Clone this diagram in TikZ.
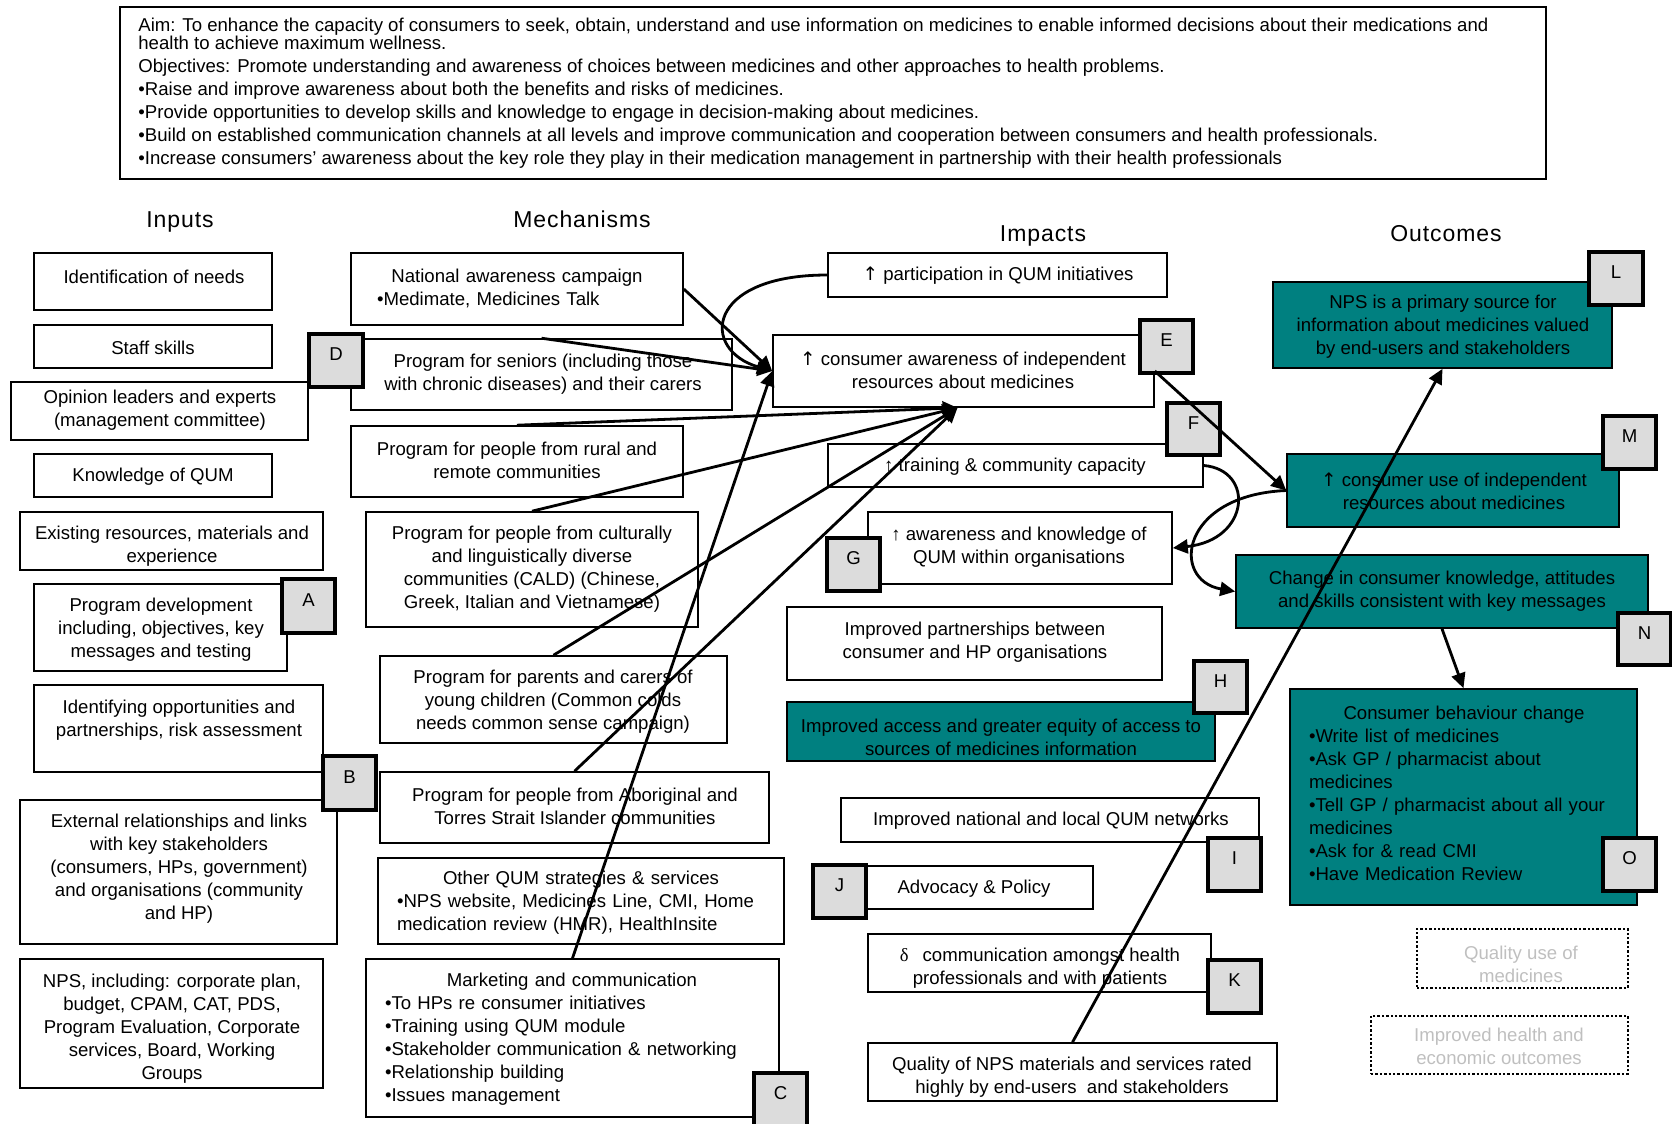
\documentclass[tikz,border=0pt]{standalone}
\usepackage{fontspec}
\setmainfont{Liberation Sans}
\newfontfamily\symfont{Liberation Serif}
\newfontfamily\arrowfont{DejaVu Sans}
\usetikzlibrary{fit,arrows.meta}
\definecolor{tealfill}{RGB}{0,128,128}
\definecolor{badgegray}{RGB}{220,220,220}
\definecolor{fadedtext}{RGB}{191,191,191}
\newcommand{\uparr}{{\arrowfont ↑}}
\newcommand{\thinup}{{\symfont ↑}}

\begin{document}
\begin{tikzpicture}[x=0.5pt,y=-0.5pt,
  box/.style={draw, line width=0.8pt, inner sep=0pt},
  tealbox/.style={box, fill=tealfill},
  dotbox/.style={draw, densely dotted, line width=1.2pt, inner sep=0pt},
  badge/.style={draw, line width=1.6pt, fill=badgegray, inner sep=0pt, font=\fontsize{9.3}{11.5}\selectfont},
  txt/.style={inner sep=0pt, align=center, font=\fontsize{9.3}{11.5}\selectfont},
  listtxt/.style={inner sep=0pt, align=left, font=\fontsize{9.3}{11.5}\selectfont},
  fadedtxt/.style={txt, text=fadedtext},
  heading/.style={inner sep=0pt, anchor=base, font=\fontsize{11.5}{13}\selectfont\addfontfeature{LetterSpace=4}},
  conn/.style={line width=1.4pt, -{Triangle[length=7.5pt,width=7pt]}},
]
\useasboundingbox (0,0) rectangle (1672,1124);

% ---------- aim and objectives ----------
\node[box, fit={(120,7) (1546,179)}] (aim) {};
\node[listtxt, anchor=north west, font=\fontsize{9.3}{9}\selectfont] (aim-t) at (138,18)
 {Aim: To enhance the capacity of consumers to seek, obtain, understand and use information on medicines to enable informed decisions about their medications and\\
  health to achieve maximum wellness.\\[2.5pt]
  Objectives: Promote understanding and awareness of choices between medicines and other approaches to health problems.\\[2.5pt]
  •Raise and improve awareness about both the benefits and risks of medicines.\\[2.5pt]
  •Provide opportunities to develop skills and knowledge to engage in decision-making about medicines.\\[2.5pt]
  •Build on established communication channels at all levels and improve communication and cooperation between consumers and health professionals.\\[2.5pt]
  •Increase consumers’ awareness about the key role they play in their medication management in partnership with their health professionals};

% ---------- column headings ----------
\node[heading] (h-in) at (180,227) {Inputs};
\node[heading] (h-mech) at (582,227) {Mechanisms};
\node[heading] (h-imp) at (1043,241) {Impacts};
\node[heading] (h-out) at (1446,241) {Outcomes};

% ---------- inputs ----------
\node[box, fit={(34,253) (272,310)}] (idn) {};
\node[txt] (idn-t) at (154,277) {Identification of needs};
\node[box, fit={(34,325) (272,368)}] (staff) {};
\node[txt] (staff-t) at (153,348) {Staff skills};
\node[box, fit={(11,382) (308,440)}] (opin) {};
\node[txt] (opin-t) at (160,410) {Opinion leaders and experts\\(management committee)};
\node[box, fit={(34,454) (272,497)}] (know) {};
\node[txt] (know-t) at (153,477) {Knowledge of QUM};
\node[box, fit={(20,512) (323,570)}] (exist) {};
\node[txt] (exist-t) at (172,546) {Existing resources, materials and\\experience};
\node[box, fit={(34,584) (287,671)}] (progdev) {};
\node[txt] (progdev-t) at (161,630) {Program development\\including, objectives, key\\messages and testing};
\node[box, fit={(34,685) (323,772)}] (identopp) {};
\node[txt] (identopp-t) at (179,720) {Identifying opportunities and\\partnerships, risk assessment};
\node[box, fit={(20,800) (337,944)}] (extrel) {};
\node[txt] (extrel-t) at (179,869) {External relationships and links\\with key stakeholders\\(consumers, HPs, government)\\and organisations (community\\and HP)};
\node[box, fit={(20,959) (323,1088)}] (npsinc) {};
\node[txt] (npsinc-t) at (172,1029) {NPS, including: corporate plan,\\budget, CPAM, CAT, PDS,\\Program Evaluation, Corporate\\services, Board, Working\\Groups};

% ---------- mechanisms ----------
\node[box, fit={(351,253) (683,325)}] (natl) {};
\node[listtxt, text width=140pt] (natl-t) at (517,288)
 {\centering National awareness campaign\par\raggedright •Medimate, Medicines Talk};
\node[box, fit={(351,339) (732,410)}] (seniors) {};
\node[txt] (seniors-t) at (543,374) {Program for seniors (including those\\with chronic diseases) and their carers};
\node[box, fit={(351,426) (683,497)}] (rural) {};
\node[txt] (rural-t) at (517,460) {Program for people from rural and\\remote communities};
\node[box, fit={(366,512) (698,627)}] (cald) {};
\node[txt] (cald-t) at (532,569) {Program for people from culturally\\and linguistically diverse\\communities (CALD) (Chinese,\\Greek, Italian and Vietnamese)};
\node[box, fit={(380,656) (727,743)}] (parents) {};
\node[txt] (parents-t) at (553,702) {Program for parents and carers of\\young children (Common colds\\needs common sense campaign)};
\node[box, fit={(380,772) (769,843)}] (abor) {};
\node[txt] (abor-t) at (575,806) {Program for people from Aboriginal and\\Torres Strait Islander communities};
\node[box, fit={(378,858) (784,944)}] (other) {};
\node[listtxt, text width=184pt] (other-t) at (581,903)
 {\centering Other QUM strategies \& services\par\raggedright •NPS website, Medicines Line, CMI, Home\newline medication review (HMR), HealthInsite};
\node[box, fit={(366,959) (779,1117)}] (market) {};
\node[listtxt, text width=187pt] (market-t) at (572,1039)
 {\centering Marketing and communication\par\raggedright
  •To HPs re consumer initiatives\par •Training using QUM module\par
  •Stakeholder communication \& networking\par •Relationship building\par •Issues management};

% ---------- impacts ----------
\node[box, fit={(828,253) (1167,297)}] (partic) {};
\node[txt] (partic-t) at (998,276) {\uparr\ participation in QUM initiatives};
\node[box, fit={(773,335) (1154,407)}] (aware) {};
\node[txt] (aware-t) at (963,370) {\uparr\ consumer awareness of independent\\resources about medicines};
\node[box, fit={(828,444) (1203,487)}] (train) {};
\node[txt] (train-t) at (1015,467) {\thinup\ training \& community capacity};
\node[box, fit={(868,512) (1172,584)}] (awk) {};
\node[txt] (awk-t) at (1019,547) {\thinup\ awareness and knowledge of\\QUM within organisations};
\node[box, fit={(787,607) (1162,680)}] (partn) {};
\node[txt] (partn-t) at (975,642) {Improved partnerships between\\consumer and HP organisations};
\node[tealbox, fit={(787,702) (1215,761)}] (access) {};
\node[txt] (access-t) at (1001,737) {Improved access and greater equity of access to\\sources of medicines information};
\node[box, fit={(841,798) (1259,842)}] (natnet) {};
\node[txt] (natnet-t) at (1051,821) {Improved national and local QUM networks};
\node[box, fit={(866,866) (1093,909)}] (advoc) {};
\node[txt] (advoc-t) at (974,889) {Advocacy \& Policy};
\node[box, fit={(868,934) (1211,992)}] (comm) {};
\node[txt] (comm-t) at (1040,968) {{\symfont δ}\hspace{7pt}communication amongst health\\professionals and with patients};
\node[box, fit={(868,1043) (1277,1101)}] (quality) {};
\node[txt] (quality-t) at (1072,1077) {Quality of NPS materials and services rated\\highly by end-users\ \ and stakeholders};

% ---------- outcomes ----------
\node[tealbox, fit={(1273,282) (1612,368)}] (npsprim) {};
\node[txt] (npsprim-t) at (1443,327) {NPS is a primary source for\\information about medicines valued\\by end-users and stakeholders};
\node[tealbox, fit={(1287,454) (1619,527)}] (use) {};
\node[txt] (use-t) at (1454,491) {\uparr\ consumer use of independent\\resources about medicines};
\node[tealbox, fit={(1236,555) (1648,628)}] (change) {};
\node[txt] (change-t) at (1442,591) {Change in consumer knowledge, attitudes\\and skills consistent with key messages};
\node[tealbox, fit={(1290,689) (1637,905)}] (behav) {};
\node[listtxt, text width=155pt] (behav-t) at (1464,793)
 {\centering Consumer behaviour change\par\raggedright
  •Write list of medicines\par •Ask GP / pharmacist about\newline medicines\par
  •Tell GP / pharmacist about all your\newline medicines\par •Ask for \& read CMI\par
  •Have Medication Review};
\node[dotbox, fit={(1417,929) (1628,988)}] (qum) {};
\node[fadedtxt] (qum-t) at (1521,964) {Quality use of\\medicines};
\node[dotbox, fit={(1371,1016) (1628,1074)}] (health) {};
\node[fadedtxt] (health-t) at (1499,1046) {Improved health and\\economic outcomes};

% ---------- lettered markers ----------
\node[badge, fit={(282,579) (335,633)}] (bA) {A};
\node[badge, fit={(323,756) (376,810)}] (bB) {B};
\node[badge, fit={(754,1073) (807,1127)}] (bC) {C};
\node[badge, fit={(309,334) (363,387)}] (bD) {D};
\node[badge, fit={(1140,320) (1193,373)}] (bE) {E};
\node[badge, fit={(1167,403) (1220,455)}] (bF) {F};
\node[badge, fit={(827,538) (880,591)}] (bG) {G};
\node[badge, fit={(1194,661) (1247,713)}] (bH) {H};
\node[badge, fit={(1208,838) (1261,891)}] (bI) {I};
\node[badge, fit={(813,865) (866,918)}] (bJ) {J};
\node[badge, fit={(1208,960) (1261,1013)}] (bK) {K};
\node[badge, fit={(1589,252) (1643,305)}] (bL) {L};
\node[badge, fit={(1603,416) (1656,469)}] (bM) {M};
\node[badge, fit={(1618,613) (1671,665)}] (bN) {N};
\node[badge, fit={(1603,838) (1656,891)}] (bO) {O};

% ---------- connectors ----------
\draw[conn] (natl.east) -- (aware.west);
\draw[conn] (seniors.north) -- (aware.west);
\draw[conn] (market.north) -- (aware.west);
\draw[conn] (partic.west) .. controls (705,275) and (700,350) .. (aware.west);
\draw[conn] (rural.north) -- ([xshift=-3pt]aware.south);
\draw[conn] (cald.north) -- ([xshift=-3pt]aware.south);
\draw[conn] (parents.north) -- ([xshift=-3pt]aware.south);
\draw[conn] (abor.north) -- ([xshift=-3pt]aware.south);
\draw[conn] (aware.east) -- (use.west);
\draw[conn] (train.east) .. controls (1255,470) and (1250,540) .. (awk.east);
\draw[conn] (use.west) .. controls (1180,495) and (1170,580) .. (change.west);
\draw[conn] (quality.north) -- (npsprim.south);
\draw[conn] (change.south) -- (behav.north);
\end{tikzpicture}
\end{document}
